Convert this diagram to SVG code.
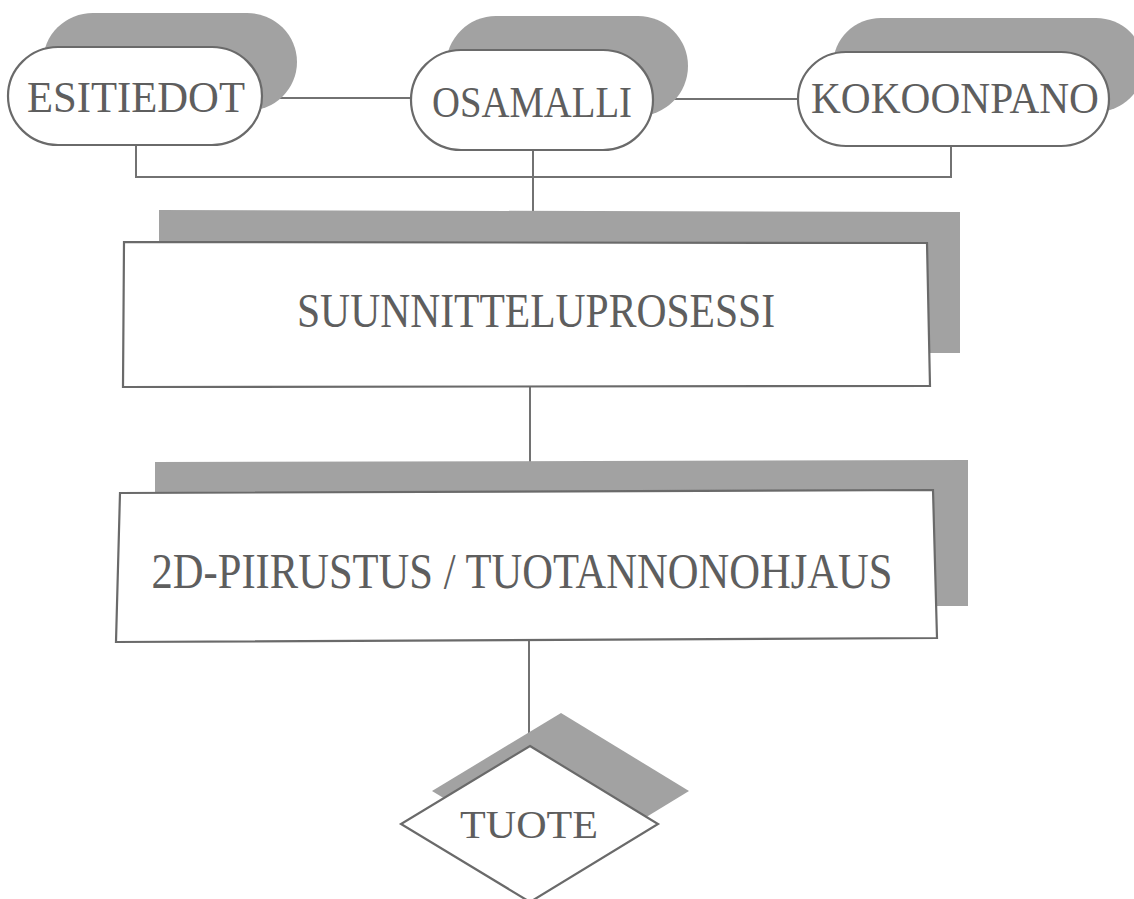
<svg xmlns="http://www.w3.org/2000/svg" width="1134" height="899" viewBox="0 0 1134 899">
<style>
.shadow{fill:#a2a2a2;stroke:none}
.shape{fill:#ffffff;stroke:#6a6a6a;stroke-width:2.2}
.conn{fill:none;stroke:#727272;stroke-width:2}
.label{font-family:"Liberation Serif","Times New Roman",serif;fill:#5e5e5e;text-anchor:middle}
</style>
<rect width="1134" height="899" fill="#ffffff"/>
<g id="connectors">
<path class="conn" d="M263,98 H411"/>
<path class="conn" d="M653,99 H798"/>
<path class="conn" d="M136,145 V177 H951 V146"/>
<path class="conn" d="M533,151 V212"/>
<path class="conn" d="M530,387 V462"/>
<path class="conn" d="M529,640 V746"/>
</g>
<g id="esitiedot">
<rect class="shadow" x="43" y="13" width="254" height="98" rx="50"/>
<rect class="shape" x="8" y="47" width="254" height="98" rx="50"/>
<text class="label" x="136" y="112" font-size="44" textLength="218" lengthAdjust="spacingAndGlyphs">ESITIEDOT</text>
</g>
<g id="osamalli">
<rect class="shadow" x="446" y="16" width="242" height="100" rx="50"/>
<rect class="shape" x="411" y="50" width="242" height="100" rx="50"/>
<text class="label" x="532" y="117" font-size="44" textLength="200" lengthAdjust="spacingAndGlyphs">OSAMALLI</text>
</g>
<g id="kokoonpano">
<rect class="shadow" x="833" y="18" width="311" height="94" rx="48"/>
<rect class="shape" x="798" y="52" width="311" height="94" rx="48"/>
<text class="label" x="955" y="113" font-size="44" textLength="288" lengthAdjust="spacingAndGlyphs">KOKOONPANO</text>
</g>
<g id="suunnitteluprosessi">
<polygon class="shadow" points="159,210 960,212 960,353 159,353"/>
<polygon class="shape" points="124,242 927,243 930,386 123,387"/>
<text class="label" x="536" y="327" font-size="48" textLength="478" lengthAdjust="spacingAndGlyphs">SUUNNITTELUPROSESSI</text>
</g>
<g id="piirustus">
<polygon class="shadow" points="155,462 968,460 968,606 155,606"/>
<polygon class="shape" points="120,493 933,490 937,638 116,642"/>
<text class="label" x="522" y="588" font-size="50" textLength="741" lengthAdjust="spacingAndGlyphs">2D-PIIRUSTUS / TUOTANNONOHJAUS</text>
</g>
<g id="tuote">
<polygon class="shadow" points="561,713 689,791 561,869 432,791"/>
<polygon class="shape" points="530,746 658,824 530,902 401,824"/>
<text class="label" x="529" y="838" font-size="40" textLength="138" lengthAdjust="spacingAndGlyphs">TUOTE</text>
</g>
</svg>
